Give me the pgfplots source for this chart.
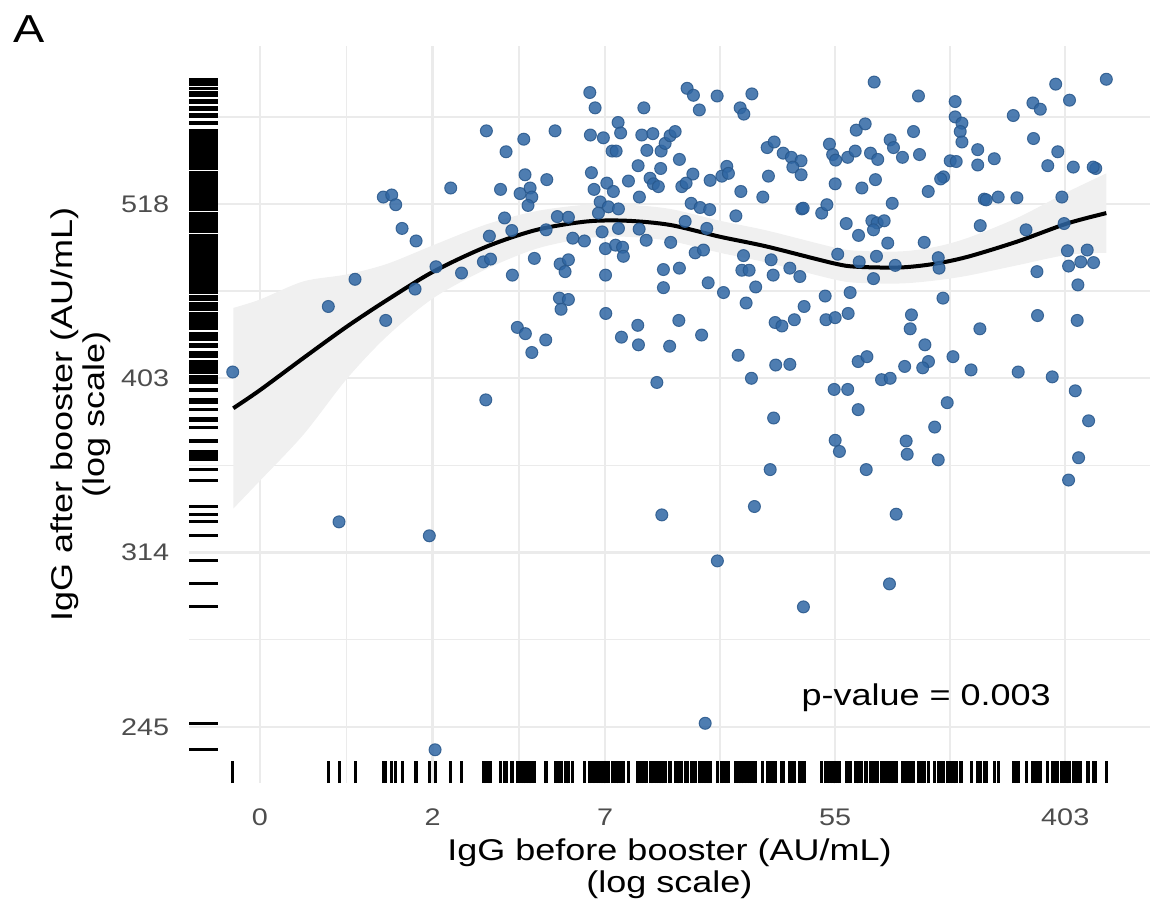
\documentclass[border=0pt]{standalone}
\usepackage{fontspec}
\setmainfont{Liberation Sans}[FakeStretch=1.2]
\usepackage{pgfplots}
\pgfplotsset{compat=1.18}
\usepackage{pgfplotstable}
\usepgfplotslibrary{fillbetween}
\definecolor{ptblue}{RGB}{47,102,163}
\definecolor{gridgray}{RGB}{235,235,235}
\definecolor{bandgray}{RGB}{240,240,240}
\definecolor{tickgray}{RGB}{77,77,77}
\pgfdeclareplotmark{rugx}{\pgfpathmoveto{\pgfpointorigin}\pgfpathlineto{\pgfpoint{0pt}{6.6pt}}\pgfusepathqstroke}
\pgfdeclareplotmark{rugy}{\pgfpathmoveto{\pgfpointorigin}\pgfpathlineto{\pgfpoint{8.65pt}{0pt}}\pgfusepathqstroke}

% u = ln(IgG before), v = ln(IgG after)
\pgfplotstableread{
u v
-1.237 6.009
-0.406 6.103
-0.174 6.142
0.093 6.083
0.072 6.260
0.145 6.263
0.180 6.249
0.235 6.215
0.357 6.197
0.348 6.128
0.530 6.160
0.658 6.273
0.963 5.969
0.968 6.355
0.752 6.151
0.994 6.204
0.942 6.167
1.004 6.171
1.091 6.271
1.139 6.325
1.126 6.230
1.189 6.212
1.194 6.148
1.237 6.073
1.307 6.064
1.363 6.037
1.484 6.055
1.293 6.343
1.304 6.292
1.261 6.265
1.348 6.273
1.363 6.260
1.330 6.248
1.565 6.355
1.493 6.285
1.385 6.172
1.487 6.213
1.585 6.232
1.681 6.231
1.719 6.201
1.820 6.197
1.609 6.164
1.681 6.170
1.652 6.153
1.603 6.115
1.681 6.113
1.617 6.099
2.004 6.148
2.006 6.093
2.450 5.994
1.867 6.410
1.913 6.388
1.872 6.349
1.985 6.345
2.113 6.367
2.135 6.352
2.061 6.326
2.096 6.326
1.881 6.295
1.904 6.271
2.015 6.280
2.072 6.268
2.203 6.283
1.957 6.253
2.029 6.246
1.942 6.237
2.116 6.243
1.974 6.210
2.116 6.215
2.003 6.186
2.091 6.191
2.152 6.188
2.159 6.175
2.287 6.305
2.298 6.260
2.296 6.214
2.357 6.198
2.337 6.388
2.319 6.349
2.415 6.351
2.363 6.327
2.483 6.301
2.391 6.287
2.420 6.279
2.463 6.275
2.487 6.326
2.522 6.337
2.565 6.348
2.609 6.354
2.646 6.314
2.507 6.156
2.646 6.158
2.507 6.130
2.570 6.195
2.641 6.083
2.561 6.046
2.284 6.076
2.142 6.059
2.290 6.048
2.713 6.416
2.768 6.406
2.819 6.385
2.974 6.405
2.763 6.293
2.667 6.275
2.704 6.280
2.913 6.284
2.748 6.251
2.826 6.245
2.909 6.242
2.696 6.225
2.884 6.215
2.783 6.180
2.855 6.184
2.896 6.137
2.839 6.062
3.276 6.408
3.174 6.388
3.206 6.379
4.339 6.425
3.015 6.290
3.058 6.304
3.072 6.294
3.180 6.268
3.371 6.260
3.420 6.290
3.409 6.331
3.470 6.339
3.548 6.323
3.619 6.317
3.703 6.312
3.632 6.303
3.704 6.292
3.137 6.233
3.710 6.243
3.722 6.244
3.883 6.237
3.928 6.249
3.950 6.336
3.978 6.321
4.004 6.313
4.109 6.317
4.174 6.326
4.183 6.356
4.261 6.365
4.307 6.323
4.370 6.314
4.000 6.279
4.232 6.273
4.350 6.285
4.096 6.222
4.203 6.205
4.319 6.226
4.365 6.223
4.426 6.226
4.333 6.213
4.022 6.178
4.209 6.167
4.359 6.175
4.333 6.143
4.457 6.194
4.496 6.251
3.203 6.176
3.189 6.155
3.252 6.155
3.443 6.170
3.461 6.148
3.606 6.158
3.693 6.146
4.724 6.405
5.043 6.397
5.043 6.375
5.102 6.366
5.087 6.354
5.102 6.339
4.681 6.354
4.478 6.342
4.507 6.331
4.585 6.317
4.733 6.321
5.000 6.312
5.052 6.311
5.239 6.328
5.239 6.306
5.383 6.315
4.942 6.289
4.917 6.286
4.809 6.268
4.774 6.195
4.896 6.173
4.903 6.158
4.522 6.162
5.296 6.257
5.313 6.256
5.417 6.260
5.580 6.259
5.261 6.219
5.659 6.213
5.548 6.377
5.719 6.395
5.783 6.386
5.917 6.422
6.037 6.399
6.357 6.429
5.724 6.344
5.935 6.325
5.848 6.305
6.070 6.303
6.265 6.301
6.243 6.303
5.971 6.260
5.990 6.222
6.019 6.183
6.191 6.184
6.029 6.161
6.135 6.167
6.246 6.166
5.754 6.153
6.110 6.134
6.104 6.083
6.087 5.982
6.203 5.939
6.116 5.886
6.029 5.854
3.913 6.118
4.130 6.123
3.730 6.103
3.478 6.080
3.537 6.075
3.645 6.084
3.920 6.084
4.000 6.087
4.113 6.093
4.663 6.091
4.652 6.071
4.937 6.115
5.258 6.071
5.759 6.090
4.780 6.048
5.024 6.031
4.811 6.024
4.761 6.015
4.604 6.017
4.200 6.024
4.276 6.031
3.483 6.019
3.606 6.020
4.403 5.998
4.478 6.000
5.181 6.012
5.591 6.009
5.887 6.002
3.991 5.984
4.109 5.984
4.200 5.955
3.465 5.943
4.974 5.965
4.865 5.930
4.000 5.911
4.037 5.895
4.617 5.910
4.626 5.891
4.896 5.883
3.435 5.869
4.270 5.869
3.029 6.123
3.309 6.131
3.226 6.108
3.157 6.033
3.272 6.000
3.298 5.816
2.976 5.738
3.724 5.672
4.530 5.805
4.472 5.705
2.870 5.505
-0.313 5.794
0.472 5.774
0.522 5.467
2.493 5.804
}\pts

\pgfplotstableread{
u fit lo hi
-1.232 5.957 5.813 6.101
-1.000 5.983 5.853 6.113
-0.623 6.029 5.919 6.139
-0.246 6.074 5.999 6.149
0.102 6.112 6.060 6.164
0.507 6.153 6.115 6.191
0.971 6.189 6.157 6.221
1.406 6.213 6.186 6.240
1.841 6.225 6.201 6.249
2.189 6.226 6.203 6.249
2.565 6.220 6.197 6.243
3.000 6.203 6.180 6.226
3.406 6.189 6.166 6.212
3.985 6.165 6.142 6.188
4.189 6.160 6.137 6.183
4.565 6.159 6.136 6.182
4.855 6.164 6.140 6.188
5.145 6.174 6.147 6.201
5.580 6.196 6.162 6.230
6.015 6.222 6.177 6.267
6.357 6.237 6.180 6.294
}\fitdata

\begin{document}
\begin{tikzpicture}
\begin{axis}[
  at={(56.7pt,-234.96pt)}, anchor=south west,
  scale only axis, width=288.3pt, height=221.22pt,
  xmin=-1.617, xmax=6.737, ymin=5.419, ymax=6.477,
  clip=false,
  axis line style={draw=none},
  major tick length=0pt, minor tick length=0pt,
  xtick={-1,0.5,2,4,6}, xticklabels={0,2,7,55,403},
  ytick={5.5,5.75,6,6.25}, yticklabels={245,314,403,518},
  minor xtick={-0.25,1.25,3,5},
  minor ytick={5.625,5.875,6.125,6.375},
  grid=both,
  major grid style={draw=gridgray, line width=0.7pt},
  minor grid style={draw=gridgray, line width=0.45pt},
  xticklabel style={font=\fontsize{7.2}{8.6}\selectfont, text=tickgray},
  yticklabel style={font=\fontsize{7.2}{8.6}\selectfont, text=tickgray},
  xticklabel shift=4.1pt, yticklabel shift=2.4pt,
]
\addplot[name path=hi, draw=none, smooth] table[x=u, y=hi] {\fitdata};
\addplot[name path=lo, draw=none, smooth] table[x=u, y=lo] {\fitdata};
\addplot[fill=bandgray, draw=none] fill between[of=hi and lo];
\addplot[only marks, mark=*, mark size=1.8pt,
  mark options={fill=ptblue, draw=ptblue!85!black, line width=0.3pt, fill opacity=0.85, draw opacity=0.85}]
  table[x=u, y=v] {\pts};
\addplot[black, line width=1.2pt, smooth] table[x=u, y=fit] {\fitdata};
\addplot[only marks, mark=rugx, line width=0.9pt, black] table[x=u, y expr=5.419] {\pts};
\addplot[only marks, mark=rugy, line width=0.9pt, black] table[x expr=-1.617, y=v] {\pts};
\node[anchor=base, font=\fontsize{9}{10.8}\selectfont] at (axis cs:4.791,5.531) {p-value = 0.003};
\end{axis}
\node[anchor=base, font=\fontsize{9}{10.8}\selectfont] at (200.85pt,-258pt) {IgG before booster (AU/mL)};
\node[anchor=base, font=\fontsize{9}{10.8}\selectfont] at (200.85pt,-267.6pt) {(log scale)};
\node[anchor=base, rotate=90, font=\fontsize{9}{10.8}\selectfont] at (21.6pt,-124.35pt) {IgG after booster (AU/mL)};
\node[anchor=base, rotate=90, font=\fontsize{9}{10.8}\selectfont] at (31.2pt,-124.35pt) {(log scale)};
\node[anchor=north west, inner sep=0pt, font=\fontsize{11.7}{14}\selectfont] at (3.9pt,-4.5pt) {A};
\path (0,0) rectangle (346.8pt,-276.6pt);
\end{tikzpicture}
\end{document}
